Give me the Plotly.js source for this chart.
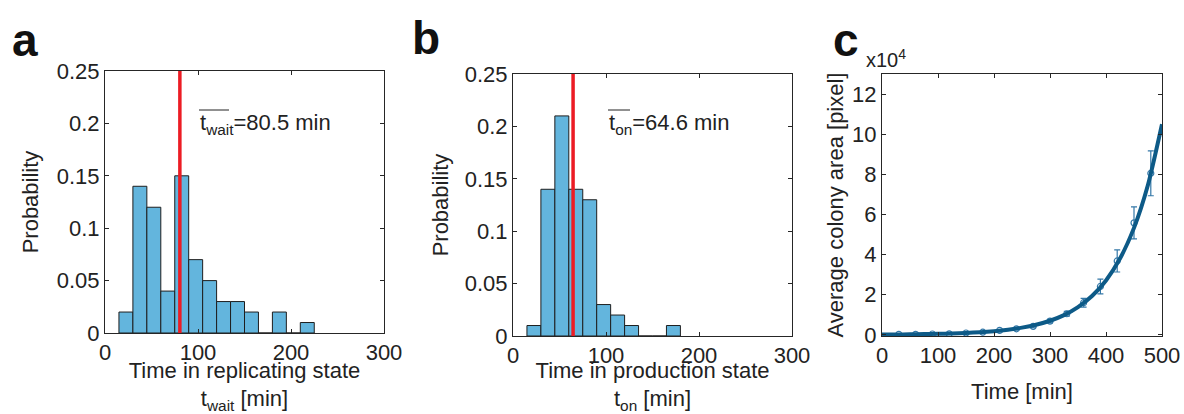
<!DOCTYPE html>
<html>
<head>
<meta charset="utf-8">
<script src="https://cdn.plot.ly/plotly-3.0.1.min.js"></script>
<style>html,body{margin:0;padding:0;background:#fff;}#chart{width:1184px;height:414px;}</style>
</head>
<body>
<div id="chart"></div>
<script>
// ---- Data ----
const binWidth = 15;
const binLeftA = [15, 30, 45, 60, 75, 90, 105, 120, 135, 150, 165, 180, 195, 210];
const probA    = [0.02, 0.14, 0.12, 0.04, 0.15, 0.07, 0.05, 0.03, 0.03, 0.02, 0, 0.02, 0, 0.01];
const meanA = 80.5;

const binLeftB = [15, 30, 45, 60, 75, 90, 105, 120, 135, 150, 165];
const probB    = [0.01, 0.14, 0.21, 0.14, 0.13, 0.03, 0.02, 0.01, 0, 0, 0.01];
const meanB = 64.6;

// Panel c: measured colony area (x10^4 pixel)
const timeC  = [30, 60, 90, 120, 150, 180, 210, 240, 270, 300, 330, 360, 390, 420, 450, 480];
const areaC  = [0.02, 0.02, 0.04, 0.05, 0.09, 0.13, 0.22, 0.30, 0.42, 0.68, 1.05, 1.60, 2.41, 3.68, 5.58, 8.05];
const errC   = [0.01, 0.01, 0.01, 0.01, 0.02, 0.03, 0.04, 0.05, 0.07, 0.09, 0.12, 0.22, 0.37, 0.55, 0.80, 1.12];
// Fitted curve
const fitT = [0, 25, 50, 75, 100, 125, 150, 175, 200, 225, 250, 275, 300, 325, 350, 375, 400, 425, 450, 475, 500];
const fitY = [0.012, 0.017, 0.024, 0.034, 0.047, 0.066, 0.092, 0.129, 0.181, 0.254, 0.356, 0.50, 0.70, 0.98, 1.38, 1.93, 2.71, 3.80, 5.33, 7.48, 10.5];

const yTicksA = [0, 0.05, 0.1, 0.15, 0.2, 0.25];
const yTicksC = [0, 2, 4, 6, 8, 10, 12];
const xTicksH = [0, 100, 200, 300];
const xTicksC = [0, 100, 200, 300, 400, 500];

// ---- Styles ----
const FONT = 'Liberation Sans, Arial, Helvetica, sans-serif';
const TXT = '#222222';
const AX = '#262626';
const BAR = '#63b5dd';
const RED = '#ec1c24';
const BLUE = '#0d5a87';
const BLUE2 = '#3478a8';

const centers = (lefts) => lefts.map(v => v + binWidth / 2);

const traces = [
  {type:'bar', x:centers(binLeftA), y:probA, width:binWidth, xaxis:'x', yaxis:'y',
   marker:{color:BAR, line:{color:'#1e1e1e', width:1}}, showlegend:false, hoverinfo:'x+y'},
  {type:'scatter', mode:'lines', x:[meanA, meanA], y:[0, 0.25], xaxis:'x', yaxis:'y',
   line:{color:RED, width:3.5}, showlegend:false},
  {type:'bar', x:centers(binLeftB), y:probB, width:binWidth, xaxis:'x2', yaxis:'y2',
   marker:{color:BAR, line:{color:'#1e1e1e', width:1}}, showlegend:false},
  {type:'scatter', mode:'lines', x:[meanB, meanB], y:[0, 0.25], xaxis:'x2', yaxis:'y2',
   line:{color:RED, width:3.5}, showlegend:false},
  {type:'scatter', mode:'markers', x:timeC, y:areaC, xaxis:'x3', yaxis:'y3',
   marker:{symbol:'circle-open', size:6, color:BLUE2, line:{width:1.2, color:BLUE2}},
   error_y:{type:'data', array:errC, visible:true, color:BLUE2, thickness:1.2, width:3},
   showlegend:false},
  {type:'scatter', mode:'lines', x:fitT, y:fitY, xaxis:'x3', yaxis:'y3',
   line:{color:BLUE, width:4, shape:'spline', smoothing:0.6}, showlegend:false}
];

function xax(domain, range, ticks, title, standoff) {
  return {domain:domain, range:range, tickvals:ticks, ticktext:ticks.map(String),
    showgrid:false, zeroline:false, showline:true, mirror:'allticks', linecolor:AX, linewidth:1,
    ticks:'inside', ticklen:4, tickcolor:AX, tickwidth:1,
    tickfont:{family:FONT, size:22, color:TXT},
    title:{text:title, font:{family:FONT, size:22, color:TXT}, standoff:standoff},
    fixedrange:true};
}
function yax(domain, range, ticks, title, standoff, anchor) {
  return {domain:domain, range:range, tickvals:ticks, ticktext:ticks.map(String), anchor:anchor,
    showgrid:false, zeroline:false, showline:true, mirror:'allticks', linecolor:AX, linewidth:1,
    ticks:'inside', ticklen:4, tickcolor:AX, tickwidth:1,
    tickfont:{family:FONT, size:22, color:TXT},
    title:{text:title, font:{family:FONT, size:22, color:TXT}, standoff:standoff},
    fixedrange:true};
}

const W = 1184, H = 414;
const px = v => v / W, py = v => 1 - v / H;

const layout = {
  width:W, height:H, margin:{l:0, r:0, t:0, b:0},
  paper_bgcolor:'#ffffff', plot_bgcolor:'#ffffff',
  font:{family:FONT, color:TXT},
  bargap:0,
  xaxis: Object.assign(xax([px(105), px(384)], [0, 300], xTicksH, 'Time in replicating state<br>t<sub>wait</sub> [min]', 3), {anchor:'y'}),
  yaxis: yax([py(333), py(71)], [0, 0.25], yTicksA, 'Probability', 12, 'x'),
  xaxis2: Object.assign(xax([px(513), px(792)], [0, 300], xTicksH, 'Time in production state<br>t<sub>on</sub> [min]', 3), {anchor:'y2'}),
  yaxis2: yax([py(336), py(74)], [0, 0.25], yTicksA, 'Probability', 10, 'x2'),
  xaxis3: Object.assign(xax([px(882), px(1162)], [0, 500], xTicksC, 'Time [min]', 16), {anchor:'y3'}),
  yaxis3: Object.assign(yax([py(336), py(74)], [-0.06, 13], yTicksC, 'Average colony area [pixel]', 2, 'x3'), {}),
  annotations: [
    {text:'<b>a</b>', xref:'paper', yref:'paper', x:px(10), y:py(40), xanchor:'left', yanchor:'middle', showarrow:false, font:{family:FONT, size:46, color:'#111'}},
    {text:'<b>b</b>', xref:'paper', yref:'paper', x:px(410), y:py(38), xanchor:'left', yanchor:'middle', showarrow:false, font:{family:FONT, size:46, color:'#111'}},
    {text:'<b>c</b>', xref:'paper', yref:'paper', x:px(831), y:py(40), xanchor:'left', yanchor:'middle', showarrow:false, font:{family:FONT, size:46, color:'#111'}},
    {text:'x10<sup>4</sup>', xref:'paper', yref:'paper', x:px(864), y:py(59), xanchor:'left', yanchor:'middle', showarrow:false, font:{family:FONT, size:20, color:TXT}},
    {text:'t<sub>wait</sub>=80.5 min', xref:'paper', yref:'paper', x:px(198), y:py(124), xanchor:'left', yanchor:'middle', showarrow:false, font:{family:FONT, size:22, color:TXT}},
    {text:'t<sub>on</sub>=64.6 min', xref:'paper', yref:'paper', x:px(607), y:py(124), xanchor:'left', yanchor:'middle', showarrow:false, font:{family:FONT, size:22, color:TXT}}
  ],
  shapes: [
    {type:'line', xref:'paper', yref:'paper', x0:px(199), x1:px(229), y0:py(110), y1:py(110), line:{color:TXT, width:1}},
    {type:'line', xref:'paper', yref:'paper', x0:px(608), x1:px(630), y0:py(110), y1:py(110), line:{color:TXT, width:1}}
  ]
};

Plotly.newPlot('chart', traces, layout, {displayModeBar:false, staticPlot:true});
</script>
</body>
</html>
